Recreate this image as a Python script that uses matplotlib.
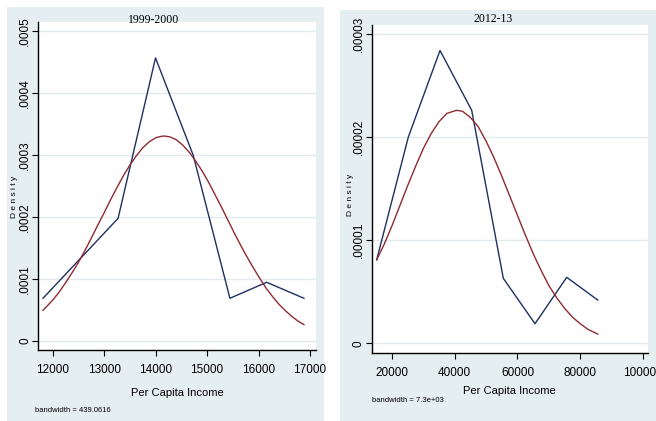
import matplotlib
matplotlib.use("Agg")
import matplotlib.pyplot as plt
from matplotlib.patches import Rectangle

# ---------------- data ----------------
left_title = "1999-2000"
right_title = "2012-13"
x_label = "Per Capita Income"
y_label = "D e n s i t y"
left_bw = "bandwidth = 439.0616"
right_bw = "bandwidth = 7.3e+03"

# 1999-2000 kernel density (blue)
kd1_x = [11811, 13270, 13998, 14730, 15444, 16158, 16883]
kd1_y = [0.0000690, 0.000198, 0.000457, 0.000300, 0.0000690, 0.0000948, 0.0000690]
# 1999-2000 normal density (red)
nd1_x = [11811, 12000, 12125, 12250, 12375, 12500, 12625, 12750, 12875, 13000,
         13125, 13250, 13375, 13500, 13625, 13750, 13875, 14000, 14085, 14165,
         14280, 14400, 14525, 14650, 14775, 14900, 15025, 15150, 15275, 15400,
         15525, 15650, 15775, 15900, 16025, 16150, 16275, 16400, 16525, 16650,
         16775, 16883]
nd1_y = [0.0000495, 0.0000660, 0.0000790, 0.0000940, 0.000110, 0.000127,
         0.000146, 0.000166, 0.000187, 0.000207, 0.000228, 0.000248, 0.000267,
         0.000284, 0.000299, 0.000312, 0.0003215, 0.000328, 0.000330, 0.000331,
         0.0003295, 0.000325, 0.0003165, 0.000305, 0.000291, 0.000275, 0.000257,
         0.000237, 0.000217, 0.000196, 0.000175, 0.000155, 0.000136, 0.000118,
         0.000101, 0.0000850, 0.0000715, 0.0000590, 0.0000487, 0.0000395,
         0.0000317, 0.0000265]

# 2012-13 kernel density (blue)
kd2_x = [15124, 25200, 35300, 45400, 55480, 65580, 75680, 85560]
kd2_y = [0.0000081, 0.0000200, 0.0000284, 0.0000226, 0.0000063, 0.0000019,
         0.0000064, 0.0000042]
# 2012-13 normal density (red)
nd2_x = [15124, 17500, 20000, 22500, 25000, 27500, 30000, 32500, 35000, 37500,
         40620, 42500, 45000, 47500, 50000, 52500, 55000, 57500, 60000, 62500,
         65000, 67500, 70000, 72500, 75000, 77500, 80000, 82500, 85560]
nd2_y = [0.0000081, 0.0000096, 0.0000114, 0.00001335, 0.0000153, 0.00001715,
         0.0000189, 0.00002035, 0.0000215, 0.0000223, 0.0000226, 0.0000225,
         0.0000219, 0.0000210, 0.0000196, 0.0000180, 0.0000162, 0.0000143,
         0.0000124, 0.0000105, 0.0000087, 0.00000708, 0.0000056, 0.00000441,
         0.0000034, 0.00000254, 0.0000019, 0.00000135, 0.0000009]

left_xticks = [12000, 13000, 14000, 15000, 16000, 17000]
left_yticks = [0, 0.0001, 0.0002, 0.0003, 0.0004, 0.0005]
left_ylabels = ["0", ".0001", ".0002", ".0003", ".0004", ".0005"]
right_xticks = [20000, 40000, 60000, 80000, 100000]
right_yticks = [0, 0.00001, 0.00002, 0.00003]
right_ylabels = ["0", ".00001", ".00002", ".00003"]

# ---------------- style ----------------
W, H = 656, 421
BG = "#e5eef1"
GRID = "#e2eaee"
BLUE = "#1f2f62"
RED = "#8e2b31"
NARROW = ["Liberation Sans Narrow", "Liberation Sans", "DejaVu Sans"]
SANS = ["Liberation Sans", "DejaVu Sans"]
SERIF = ["Liberation Serif", "DejaVu Serif"]

fig = plt.figure(figsize=(W / 100, H / 100), dpi=100)
fig.patch.set_facecolor("white")


def frac_rect(x0, y0, x1, y1):
    """pixel box (top-left origin) -> figure fraction rect"""
    return [x0 / W, (H - y1) / H, (x1 - x0) / W, (y1 - y0) / H]


def px(x, y):
    return x / W, (H - y) / H


# panel backgrounds
for (x0, y0, x1, y1) in [(7, 7, 324, 421), (340, 10, 656, 421)]:
    r = frac_rect(x0, y0, x1, y1)
    fig.add_artist(Rectangle((r[0], r[1]), r[2], r[3], transform=fig.transFigure,
                             facecolor=BG, edgecolor="none", zorder=0))


def make_panel(rect, xlim, ylim, xticks, yticks, ylabels, kx, ky, nx, ny):
    ax = fig.add_axes(frac_rect(*rect))
    ax.set_facecolor("white")
    ax.set_xlim(*xlim)
    ax.set_ylim(*ylim)
    for s in ["top", "right"]:
        ax.spines[s].set_visible(False)
    for s in ["left", "bottom"]:
        ax.spines[s].set_color("black")
        ax.spines[s].set_linewidth(1.0)
    ax.set_xticks(xticks)
    ax.set_xticklabels([str(t) for t in xticks], fontfamily=NARROW, fontsize=8.5)
    ax.set_yticks(yticks)
    ax.set_yticklabels(ylabels, fontfamily=SANS, fontsize=8.5, rotation=90,
                       va="center")
    ax.tick_params(axis="x", length=4, width=0.8, pad=6)
    ax.tick_params(axis="y", length=4, width=0.8, pad=1)
    for t in yticks:
        ax.axhline(t, color=GRID, lw=1.0, zorder=0)
    ax.plot(kx, ky, color=BLUE, lw=1.0, zorder=3)
    ax.plot(nx, ny, color=RED, lw=1.0, zorder=3)
    return ax


make_panel((38, 22, 316, 350), (11714, 17117), (-0.0000145, 0.000515),
           left_xticks, left_yticks, left_ylabels, kd1_x, kd1_y, nd1_x, nd1_y)
make_panel((371.7, 25, 648, 352.7), (13530, 101594), (-0.00000091, 0.00003087),
           right_xticks, right_yticks, right_ylabels, kd2_x, kd2_y, nd2_x, nd2_y)

# titles
fig.text(*px(154, 20), left_title, fontfamily=SERIF, fontsize=8.5,
         ha="center", va="center")
fig.text(*px(493, 18.5), right_title, fontfamily=SERIF, fontsize=8.5,
         ha="center", va="center")

# axis titles
fig.text(*px(177, 393), x_label, fontfamily=NARROW, fontsize=8,
         ha="center", va="center")
fig.text(*px(509, 391), x_label, fontfamily=NARROW, fontsize=8,
         ha="center", va="center")
fig.text(*px(14, 197), y_label, fontfamily=SANS, fontsize=6, rotation=90,
         ha="center", va="center")
fig.text(*px(350, 195), y_label, fontfamily=SANS, fontsize=6, rotation=90,
         ha="center", va="center")

# bandwidth notes
fig.text(*px(35, 410), left_bw, fontfamily=NARROW, fontsize=5.5,
         ha="left", va="center")
fig.text(*px(372, 401), right_bw, fontfamily=NARROW, fontsize=5.5,
         ha="left", va="center")

fig.savefig("out.png", dpi=100, facecolor=fig.get_facecolor())
